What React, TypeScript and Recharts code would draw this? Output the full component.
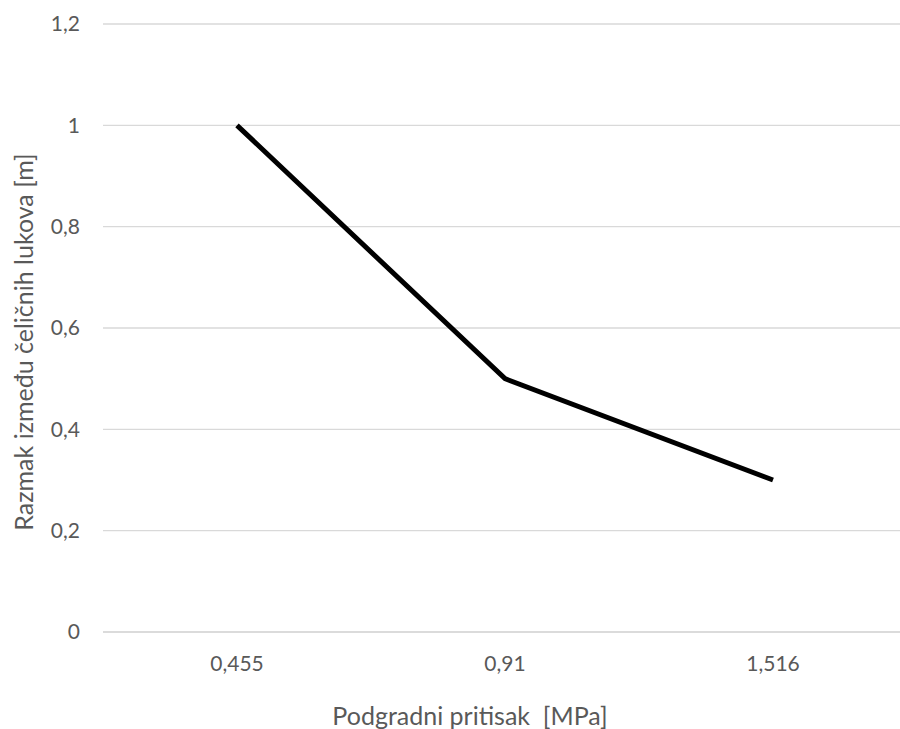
import React from "react";
import { LineChart, Line, XAxis, YAxis, CartesianGrid } from "recharts";

const categories = ["0,455", "0,91", "1,516"];
const spacing = [1, 0.5, 0.3];
const yTicks = [0, 0.2, 0.4, 0.6, 0.8, 1, 1.2];
const xTitle = "Podgradni pritisak\u00a0 [MPa]";
const yTitle = "Razmak između čeličnih lukova [m]";

const data = categories.map((c, i) => ({ pressure: c, spacing: spacing[i] }));

const FONT = "Lato, 'Open Sans', sans-serif";
const fmt = (v: number) => String(v).replace(".", ",");

const YTitle = (props: any) => {
  const vb = props.viewBox || {};
  const x = 23;
  const y = vb.y + vb.height / 2 + 14;
  return (
    <text
      x={x}
      y={y}
      transform={`rotate(-90, ${x}, ${y})`}
      textAnchor="middle"
      dominantBaseline="central"
      fill="#595959"
      fontSize={25}
      fontFamily={FONT}
    >
      {yTitle}
    </text>
  );
};

const XTitle = (props: any) => {
  const vb = props.viewBox || {};
  const x = vb.x + vb.width / 2 - 35;
  const y = 715;
  return (
    <text
      x={x}
      y={y}
      textAnchor="middle"
      dominantBaseline="central"
      fill="#595959"
      fontSize={25}
      fontFamily={FONT}
    >
      {xTitle}
    </text>
  );
};

export default function App() {
  return (
    <div style={{ position: "absolute", left: 0, top: 0, width: 900, height: 729, overflow: "hidden", background: "#fff" }}>
      <LineChart
        width={907}
        height={729}
        data={data}
        margin={{ top: 24, right: 0, left: 0, bottom: 0 }}
      >
        <CartesianGrid vertical={false} stroke="#d9d9d9" strokeWidth={1.3} />
        <XAxis
          dataKey="pressure"
          padding={{ left: 134, right: 134 }}
          axisLine={{ stroke: "#d9d9d9", strokeWidth: 1.3 }}
          tickLine={false}
          tickMargin={18}
          tick={{ fill: "#595959", fontSize: 21, fontFamily: FONT }}
          height={97}
          label={<XTitle />}
        />
        <YAxis
          width={103}
          domain={[0, 1.2]}
          ticks={yTicks}
          tickFormatter={fmt}
          axisLine={false}
          tickLine={false}
          tickMargin={17}
          tick={{ fill: "#595959", fontSize: 21, fontFamily: FONT }}
          label={<YTitle />}
        />
        <Line
          type="linear"
          dataKey="spacing"
          stroke="#000"
          strokeWidth={5}
          dot={false}
          isAnimationActive={false}
        />
      </LineChart>
    </div>
  );
}
